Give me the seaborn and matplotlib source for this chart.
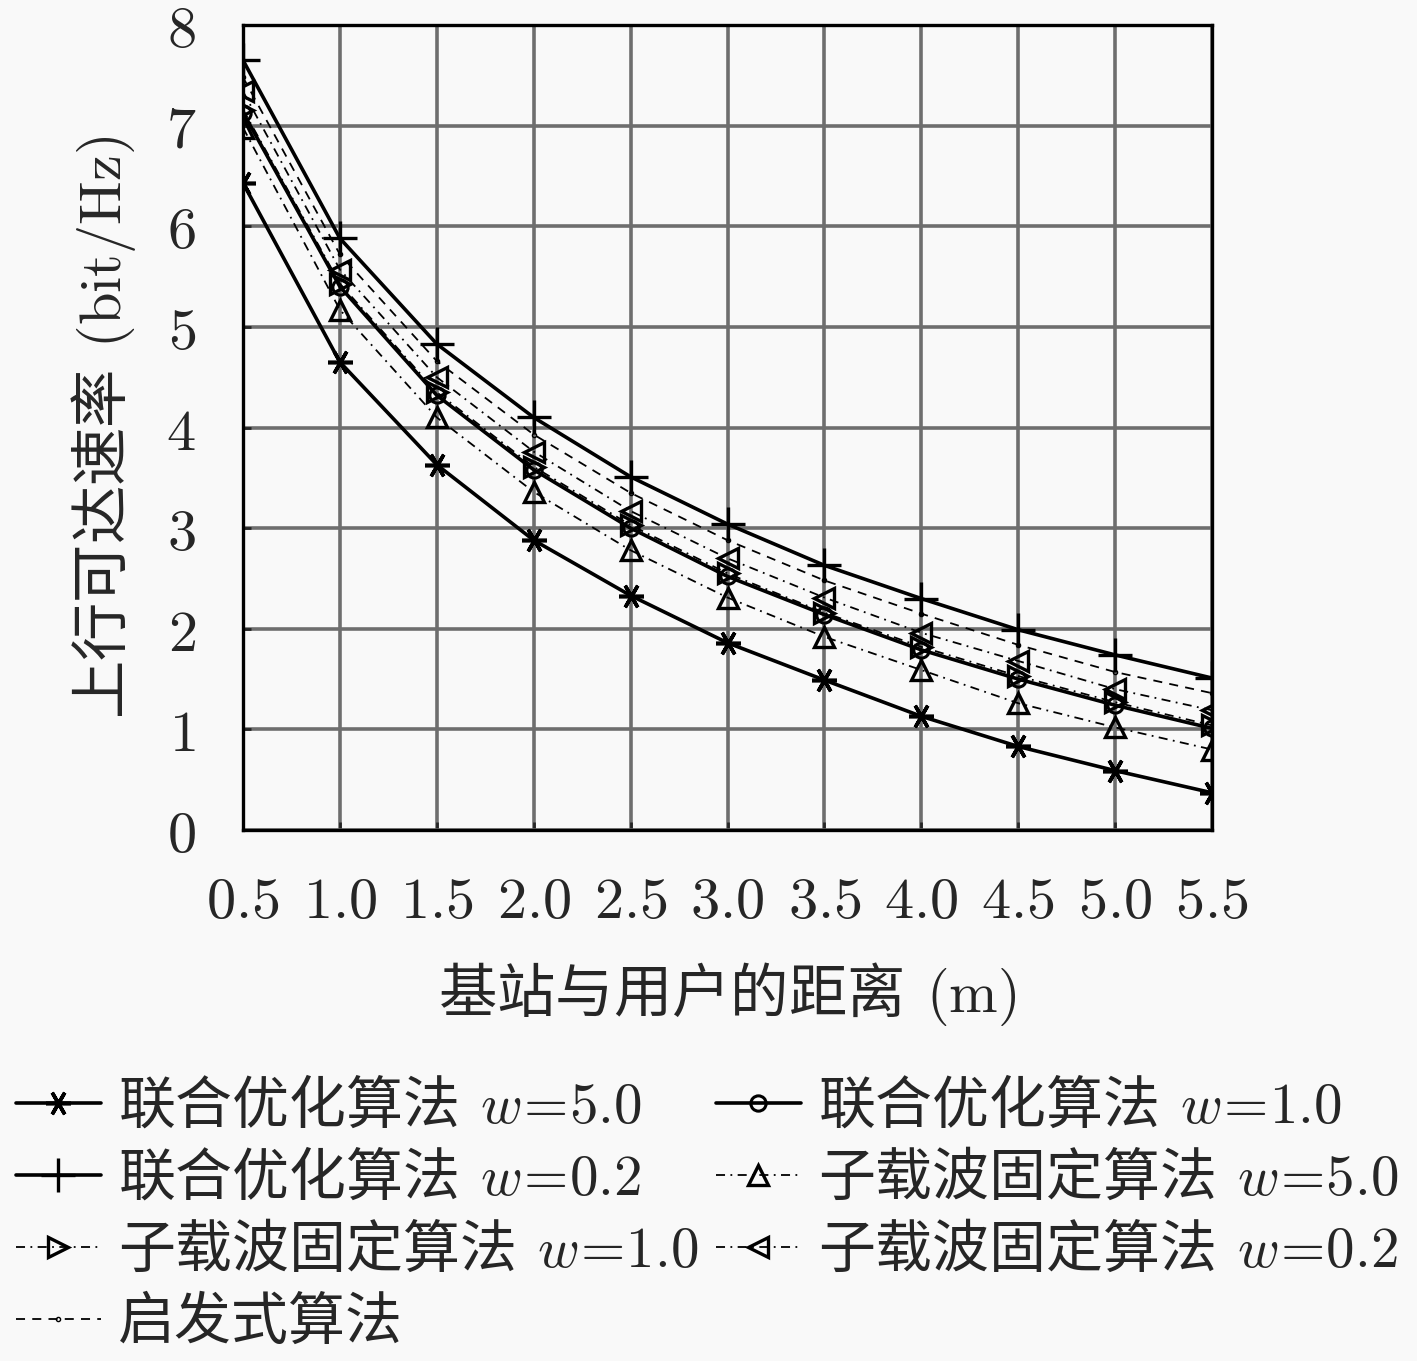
import numpy as np
import pandas as pd
import matplotlib
matplotlib.use("Agg")
import matplotlib.pyplot as plt
import seaborn as sns

# ---------------------------------------------------------------------
# data
# ---------------------------------------------------------------------
distance = [0.5, 1.0, 1.5, 2.0, 2.5, 3.0, 3.5, 4.0, 4.5, 5.0, 5.5]

joint_w50 = [6.43, 4.65, 3.63, 2.88, 2.33, 1.86, 1.49, 1.13, 0.83, 0.59, 0.37]
joint_w10 = [7.13, 5.40, 4.32, 3.58, 3.00, 2.52, 2.14, 1.79, 1.50, 1.24, 1.01]
joint_w02 = [7.65, 5.88, 4.83, 4.10, 3.51, 3.04, 2.63, 2.30, 1.99, 1.74, 1.51]
fixed_w50 = [6.98, 5.17, 4.10, 3.36, 2.78, 2.31, 1.92, 1.59, 1.26, 1.02, 0.80]
fixed_w10 = [7.16, 5.43, 4.35, 3.61, 3.03, 2.55, 2.16, 1.82, 1.53, 1.27, 1.04]
fixed_w02 = [7.34, 5.57, 4.50, 3.76, 3.17, 2.70, 2.31, 1.96, 1.68, 1.40, 1.19]
heuristic = [7.48, 5.72, 4.66, 3.93, 3.35, 2.88, 2.48, 2.15, 1.84, 1.57, 1.36]

labels = [
    r"联合优化算法 $\,w\!=\!5.0$",
    r"联合优化算法 $\,w\!=\!1.0$",
    r"联合优化算法 $\,w\!=\!0.2$",
    r"子载波固定算法 $\,w\!=\!5.0$",
    r"子载波固定算法 $\,w\!=\!1.0$",
    r"子载波固定算法 $\,w\!=\!0.2$",
    "启发式算法",
]
series = [joint_w50, joint_w10, joint_w02, fixed_w50, fixed_w10, fixed_w02, heuristic]

# ---------------------------------------------------------------------
# styling
# ---------------------------------------------------------------------
sns.set_theme(style="ticks")
plt.rcParams['font.family'] = ['DejaVu Serif', 'Noto Sans CJK SC']
plt.rcParams['mathtext.fontset'] = 'cm'
plt.rcParams['axes.unicode_minus'] = False
cjk = 'Noto Sans CJK SC'

bg = '#f9f9f9'
fig = plt.figure(figsize=(14.17, 13.61), dpi=100, facecolor=bg)
ax = fig.add_axes([243 / 1417, 1 - 830 / 1361, (1212 - 243) / 1417, (830 - 25) / 1361])
ax.set_facecolor(bg)

dashdot = (5, 3, 1, 3)
dashed = (5, 4)
styles = [
    dict(marker=(6, 2, 90), lw=2.6, ms=18, mew=2.6, dashes=None),
    dict(marker='o', lw=2.6, ms=11, mew=2.2, dashes=None),
    dict(marker='+', lw=2.6, ms=24, mew=2.4, dashes=None),
    dict(marker='^', lw=1.3, ms=15, mew=2.4, dashes=dashdot),
    dict(marker='>', lw=1.3, ms=15, mew=2.4, dashes=dashdot),
    dict(marker='<', lw=1.3, ms=15, mew=2.4, dashes=dashdot),
    dict(marker='.', lw=1.3, ms=6, mew=1.0, dashes=dashed),
]

handles = []
for vals, lab, st in zip(series, labels, styles):
    df = pd.DataFrame({'distance': distance, 'rate': vals})
    kw = dict(color='black', lw=st['lw'], marker=st['marker'], markersize=st['ms'],
              markeredgewidth=st['mew'], markeredgecolor='black',
              markerfacecolor='none', label=lab)
    sns.lineplot(data=df, x='distance', y='rate', ax=ax, legend=False, **kw)
    line = ax.lines[-1]
    if st['dashes'] is not None:
        line.set_dashes(st['dashes'])
    handles.append(line)

ax.set_xlim(0.5, 5.5)
ax.set_ylim(0, 8)
xt = np.arange(0.5, 5.51, 0.5)
ax.set_xticks(xt)
ax.set_xticklabels([f"${v:.1f}$" for v in xt], fontsize=42)
yt = np.arange(0, 9, 1)
ax.set_yticks(yt)
ax.set_yticklabels([f"${v}$" for v in yt], fontsize=42)
ax.tick_params(axis='x', direction='in', length=6, width=2, pad=32)
ax.tick_params(axis='y', direction='in', length=6, width=2, pad=34)
ax.grid(True, color='#6e6e6e', lw=2.6)
ax.set_axisbelow(True)
for sp in ax.spines.values():
    sp.set_color('black')
    sp.set_linewidth(2.4)

ax.set_xlabel(r"基站与用户的距离 $\,(\mathrm{m})$", fontsize=42, labelpad=22, family=cjk)
ax.set_ylabel(r"上行可达速率 $\,(\mathrm{bit/Hz})$", fontsize=42, labelpad=20, family=cjk)

# legend in row-major order: reorder for column filling
order = [0, 2, 4, 6, 1, 3, 5]
fig.legend([handles[i] for i in order], [labels[i] for i in order],
           loc='upper left', bbox_to_anchor=(0.011, 1 - 1077 / 1361), ncol=2,
           prop={'family': cjk, 'size': 41}, frameon=False, handlelength=1.5,
           handletextpad=0.3, columnspacing=0.3, labelspacing=0.24,
           borderaxespad=0, borderpad=0)

fig.savefig('out.png', dpi=100, facecolor=bg)
